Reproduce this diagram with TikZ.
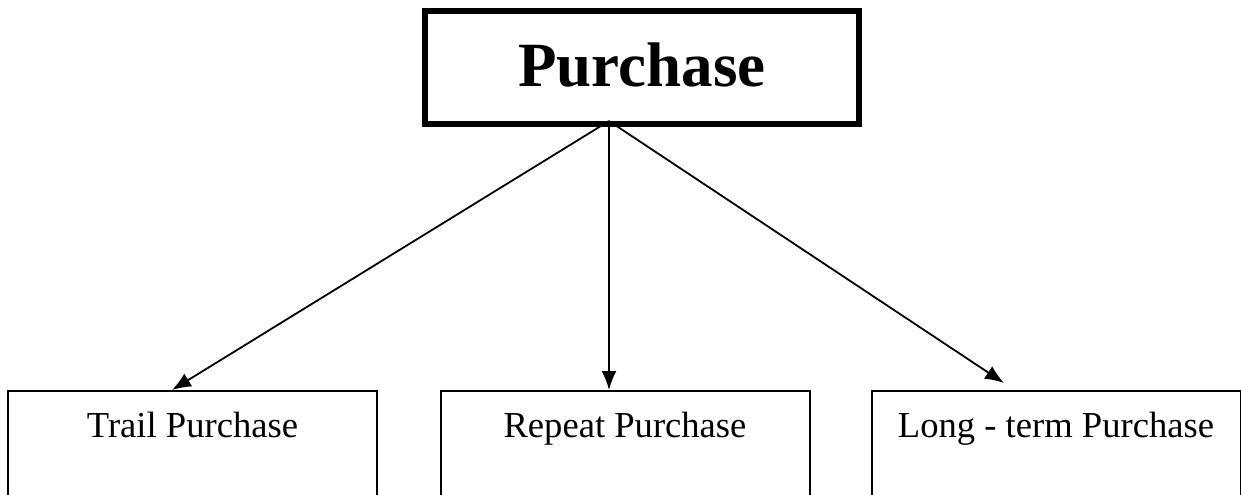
\documentclass[tikz,border=0pt]{standalone}
\usepackage{fontspec}
\setmainfont{Liberation Serif}
\usetikzlibrary{arrows.meta}

\tikzset{
  mainbox/.style={draw, line width=3pt, inner sep=0pt,
    minimum width=217pt, minimum height=56.5pt,
    font=\bfseries\fontsize{31.5}{36}\selectfont},
  kindbox/.style={draw, line width=1pt, inner sep=0pt,
    minimum width=184.5pt, text height=23pt, text depth=45pt,
    anchor=north, font=\fontsize{18.3}{22}\selectfont},
  arr/.style={-{Latex[length=9.5pt,width=7.5pt]}, line width=0.9pt}
}

\begin{document}
\begin{tikzpicture}[x=0.5pt, y=-0.5pt]
    \useasboundingbox (0, 0) rectangle (1241, 494);

    % ---------------------------------------------
    % the main purchase box
    \node[mainbox] (purchase) at (642, 67.5) {\raisebox{3pt}{Purchase}};
    \coordinate (fork) at (609, 121);

    % ---------------------------------------------
    % three kinds of purchase
    \node[kindbox] (trail) at (192.5, 390) {Trail Purchase};
    \node[kindbox] (repeat) at (625, 390) {Repeat Purchase};
    \node[kindbox] (longterm) at (1056, 390) {Long - term Purchase};

    % arrows from the main box down to each kind
    \draw[arr] (fork) -- ([xshift=-10.25pt]trail.north);
    \draw[arr] (fork) -- ([xshift=-8pt]repeat.north);
    \draw[arr] (fork) -- ([xshift=-26pt, yshift=3.5pt]longterm.north);

\end{tikzpicture}
\end{document}
